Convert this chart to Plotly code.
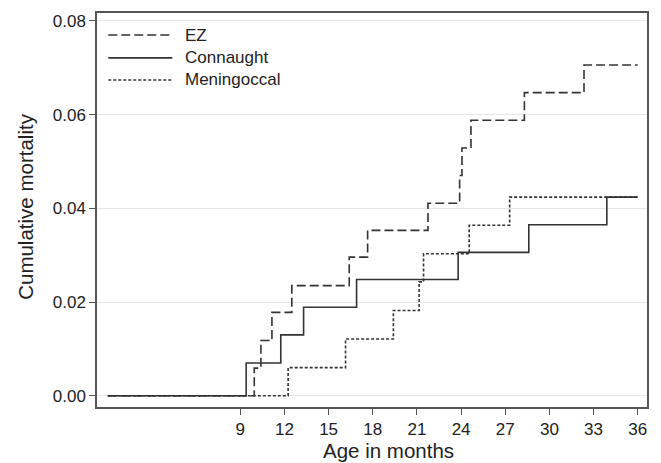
import plotly.graph_objects as go

# Data (step functions, cumulative mortality)
ez_months = [0, 9.95, 10.4, 11.15, 12.5, 16.4, 17.65, 21.75, 23.9, 24.06, 24.67, 28.3, 32.35, 36]
ez_mort = [0, 0.0059, 0.0118, 0.0178, 0.0235, 0.0296, 0.0353, 0.0411, 0.0470, 0.0529, 0.0588, 0.0647, 0.0706, 0.0706]

con_months = [0, 9.4, 11.75, 13.3, 16.9, 23.8, 28.6, 33.9, 36]
con_mort = [0, 0.0070, 0.0130, 0.0189, 0.0248, 0.0306, 0.0365, 0.0424, 0.0424]

men_months = [0, 12.25, 16.15, 19.4, 21.15, 21.45, 24.55, 27.3, 36]
men_mort = [0, 0.0060, 0.0121, 0.0182, 0.0243, 0.0303, 0.0364, 0.0424, 0.0424]

series_names = ["EZ", "Connaught", "Meningoccal"]
x_ticks = [9, 12, 15, 18, 21, 24, 27, 30, 33, 36]
y_ticks = [0.00, 0.02, 0.04, 0.06, 0.08]
x_title = "Age in months"
y_title = "Cumulative mortality"

LINE = "#333333"
TEXT = "#222222"
FONT = "Liberation Sans, Arial, Helvetica, sans-serif"
dashes = ["9px,4px", "solid", "3px,2px"]

fig = go.Figure()
for name, xs, ys, d in zip(series_names, [ez_months, con_months, men_months],
                           [ez_mort, con_mort, men_mort], dashes):
    fig.add_trace(go.Scatter(x=xs, y=ys, mode="lines", name=name,
                             line=dict(shape="hv", color=LINE, width=1.6, dash=d),
                             showlegend=False))

# custom legend (inside top-left)
leg_y = [0.944, 0.886, 0.830]
for name, d, ly in zip(series_names, dashes, leg_y):
    fig.add_shape(type="line", xref="paper", yref="paper", x0=0.0205, x1=0.137,
                  y0=ly, y1=ly, line=dict(color=LINE, width=1.6, dash=d))
    fig.add_annotation(xref="paper", yref="paper", x=0.157, y=ly, text=name,
                       showarrow=False, xanchor="left", yanchor="middle",
                       font=dict(family=FONT, size=17, color=TEXT))

# axis titles
fig.add_annotation(xref="paper", yref="paper", x=0.530, y=-0.1108, text=x_title,
                   showarrow=False, xanchor="center", yanchor="middle",
                   font=dict(family=FONT, size=20.5, color=TEXT))
fig.add_annotation(xref="paper", yref="paper", x=-0.1304, y=0.5088, text=y_title,
                   textangle=-90, showarrow=False, xanchor="center", yanchor="middle",
                   font=dict(family=FONT, size=20.5, color=TEXT))

fig.update_layout(
    width=661, height=463,
    margin=dict(l=97, r=14, t=13, b=56),
    paper_bgcolor="white", plot_bgcolor="white",
    font=dict(family=FONT, color=TEXT),
    showlegend=False,
)
fig.update_xaxes(range=[-0.735, 36.63], tickvals=x_ticks, ticks="outside", ticklen=6,
                 tickcolor="#555", tickwidth=1.2, showline=True, mirror=True,
                 linecolor="#555", linewidth=1.5, showgrid=False, zeroline=False,
                 automargin=False, tickfont=dict(size=17, color=TEXT))
fig.update_yaxes(range=[-0.0024, 0.0817], tickvals=y_ticks, tickformat=".2f",
                 ticks="outside", ticklen=6, tickcolor="#555", tickwidth=1.2,
                 showline=True, mirror=True, linecolor="#555", linewidth=1.5,
                 showgrid=True, gridcolor="#e6e6e6", gridwidth=1, zeroline=False,
                 automargin=False, tickfont=dict(size=17, color=TEXT))

fig.write_html("out.html", config={"displayModeBar": False},
               post_script="document.body.style.margin='0';document.body.style.overflow='hidden';")
